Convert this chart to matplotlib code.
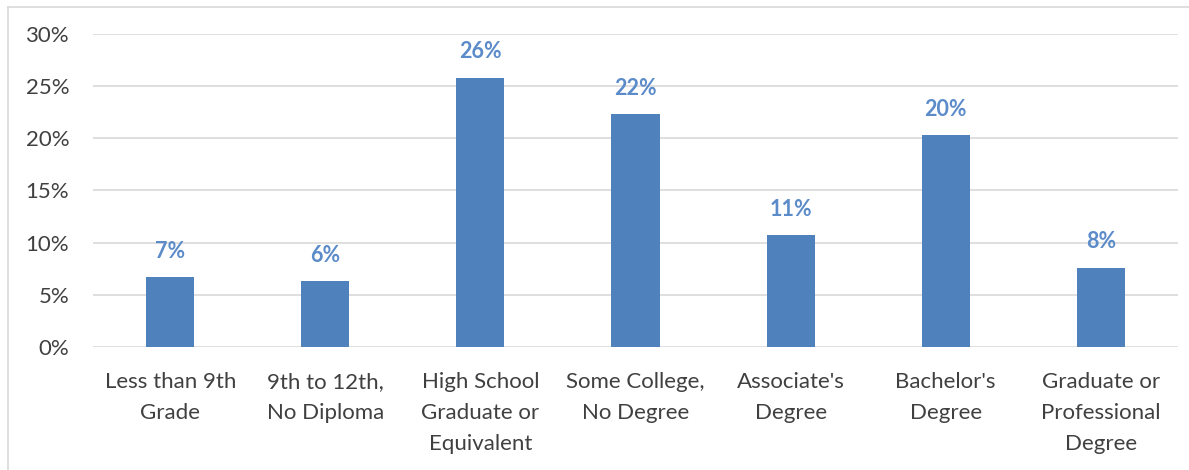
import matplotlib
matplotlib.use("Agg")
import matplotlib.pyplot as plt
from matplotlib.lines import Line2D
from matplotlib.ticker import FuncFormatter

categories = [
    "Less than 9th\nGrade",
    "9th to 12th,\nNo Diploma",
    "High School\nGraduate or\nEquivalent",
    "Some College,\nNo Degree",
    "Associate's\nDegree",
    "Bachelor's\nDegree",
    "Graduate or\nProfessional\nDegree",
]
shares = [6.7, 6.3, 25.8, 22.3, 10.7, 20.3, 7.6]
yticks = [0, 5, 10, 15, 20, 25, 30]

bar_color = "#4F81BD"
label_color = "#5B8BC9"
text_color = "#404040"
grid_color = "#D9D9D9"

plt.rcParams["font.family"] = ["Lato", "DejaVu Sans"]

fig = plt.figure(figsize=(11.89, 4.70), dpi=100)
ax = fig.add_axes([0.078, 0.262, 0.913, 0.666])

x = list(range(len(categories)))
bars = ax.bar(x, shares, width=0.31, color=bar_color, zorder=3)

for b, v in zip(bars, shares):
    ax.annotate(f"{v:.0f}%", (b.get_x() + b.get_width() / 2, v),
                xytext=(0, 18.5), textcoords="offset points",
                ha="center", va="center", fontsize=15.5, fontweight="bold",
                color=label_color)

ax.set_ylim(0, 30)
ax.set_xlim(-0.5, len(categories) - 0.5)
ax.set_yticks(yticks)
ax.yaxis.set_major_formatter(FuncFormatter(lambda v, p: f"{v:.0f}%"))
ax.set_xticks(x)
ax.set_xticklabels(categories, linespacing=1.7)
ax.tick_params(axis="y", length=0, pad=17, labelsize=16, labelcolor=text_color)
ax.tick_params(axis="x", length=0, pad=18, labelsize=16, labelcolor=text_color)

ax.grid(axis="y", color=grid_color, linewidth=1.2, zorder=0)
for s in ax.spines.values():
    s.set_visible(False)

# chart frame (left and top edges)
W, H = 1189, 470
fig.add_artist(Line2D([8 / W, 8 / W], [0, 1 - 7 / H], color=grid_color, lw=1.2))
fig.add_artist(Line2D([8 / W, 1], [1 - 7 / H, 1 - 7 / H], color=grid_color, lw=1.2))

fig.savefig("out.png", dpi=100)
